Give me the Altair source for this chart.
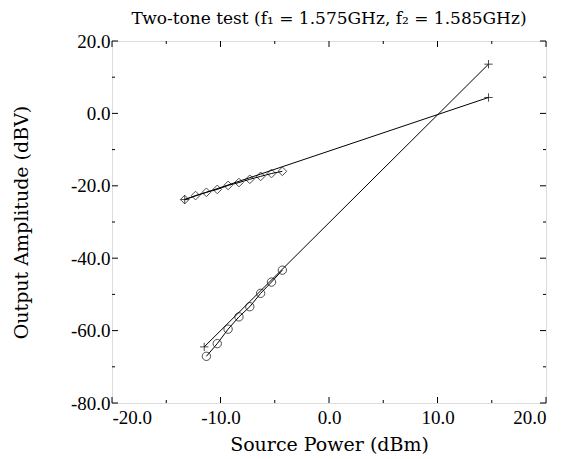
import altair as alt
import pandas as pd

# Fundamental output (diamonds)
fund_x = [-13.3, -12.3, -11.3, -10.3, -9.3, -8.3, -7.3, -6.3, -5.3, -4.3]
fund_y = [-23.8, -22.7, -21.8, -21.0, -19.9, -19.1, -18.2, -17.4, -16.6, -16.0]
# Third-order intermodulation output (circles)
im3_x = [-11.3, -10.3, -9.3, -8.3, -7.3, -6.3, -5.3, -4.3]
im3_y = [-67.1, -63.6, -59.6, -56.2, -53.4, -49.7, -46.6, -43.3]
# Extrapolated fit lines (plus markers at ends)
fit1_x = [-13.3, 14.7]
fit1_y = [-23.8, 4.4]
fit3_x = [-11.5, 14.7]
fit3_y = [-64.5, 13.6]

x_major = [-20, -10, 0, 10, 20]
x_minor = [-15, -5, 5, 15]
y_major = [-80, -60, -40, -20, 0, 20]
y_minor = [-70, -50, -30, -10, 10]

W, H = 434, 362
XDOM = [-20, 20]
YDOM = [-80, 20]

TITLE = "Two-tone test (f\u2081 = 1.575GHz, f\u2082 = 1.585GHz)"

lab_expr = "(datum.value < 0 ? '-' : '') + format(abs(datum.value), '.1f')"

xs = alt.Scale(domain=XDOM, nice=False, zero=False)
ys = alt.Scale(domain=YDOM, nice=False, zero=False)

xaxis = alt.Axis(values=x_major, labelExpr=lab_expr, title="Source Power (dBm)",
                 labelPadding=5, titleBaseline="alphabetic", titleY=47)
yaxis = alt.Axis(values=y_major, labelExpr=lab_expr, title="Output Amplitude (dBV)",
                 labelPadding=2, titleBaseline="alphabetic", titleX=-85, titleY=H / 2,
                 titleAngle=-90)

def df(xv, yv):
    return pd.DataFrame({"x": xv, "y": yv})

plus_path = "M-1,0L1,0M0,-1L0,1"

base_x = alt.X("x:Q", scale=xs, axis=xaxis)
base_y = alt.Y("y:Q", scale=ys, axis=yaxis)

layers = []
for fx, fy in [(fit1_x, fit1_y), (fit3_x, fit3_y)]:
    d = df(fx, fy)
    layers.append(alt.Chart(d).mark_line(color="black", strokeWidth=1).encode(x=base_x, y=base_y))
    layers.append(alt.Chart(d).mark_point(shape=plus_path, size=70, color="black", strokeWidth=1,
                                           filled=False).encode(x="x:Q", y="y:Q"))
d1 = df(fund_x, fund_y)
layers.append(alt.Chart(d1).mark_line(color="black", strokeWidth=1).encode(x="x:Q", y="y:Q"))
layers.append(alt.Chart(d1).mark_point(shape="diamond", size=75, color="black", strokeWidth=1,
                                        filled=False).encode(x="x:Q", y="y:Q"))
d3 = df(im3_x, im3_y)
layers.append(alt.Chart(d3).mark_line(color="black", strokeWidth=1).encode(x="x:Q", y="y:Q"))
layers.append(alt.Chart(d3).mark_point(shape="circle", size=70, color="black", strokeWidth=1,
                                        filled=False).encode(x="x:Q", y="y:Q"))

def xticks(vals, length):
    d = pd.DataFrame({"t": vals})
    bot = alt.Chart(d).mark_rule(color="black", strokeWidth=1).encode(
        x="t:Q", y=alt.value(H), y2=alt.value(H - length))
    top = alt.Chart(d).mark_rule(color="black", strokeWidth=1).encode(
        x="t:Q", y=alt.value(0), y2=alt.value(length))
    return [bot, top]

def yticks(vals, length):
    d = pd.DataFrame({"t": vals})
    left = alt.Chart(d).mark_rule(color="black", strokeWidth=1).encode(
        y="t:Q", x=alt.value(0), x2=alt.value(length))
    right = alt.Chart(d).mark_rule(color="black", strokeWidth=1).encode(
        y="t:Q", x=alt.value(W), x2=alt.value(W - length))
    return [left, right]

layers += xticks(x_major, 6) + xticks(x_minor, 3) + yticks(y_major, 6) + yticks(y_minor, 3)

title_layer = alt.Chart(pd.DataFrame({"t": [TITLE]})).mark_text(
    font="DejaVu Serif", fontSize=17, color="black", align="center", baseline="alphabetic"
).encode(text="t:N", x=alt.value(W / 2), y=alt.value(-17))
layers.append(title_layer)

chart = alt.layer(*layers).properties(
    width=W, height=H,
    autosize=alt.AutoSizeParams(type="none"),
    padding={"left": 104, "top": 33, "right": 14, "bottom": 56},
).configure_view(stroke="black", strokeWidth=1.5).configure(background="white").configure_axis(
    domain=False, ticks=False, grid=False,
    labelFont="Liberation Serif", labelFontSize=19, labelColor="black",
    titleFont="DejaVu Serif", titleFontSize=19, titleFontWeight="normal", titleColor="black",
)

chart.save("out.html", embed_options={"renderer": "svg", "actions": False})
